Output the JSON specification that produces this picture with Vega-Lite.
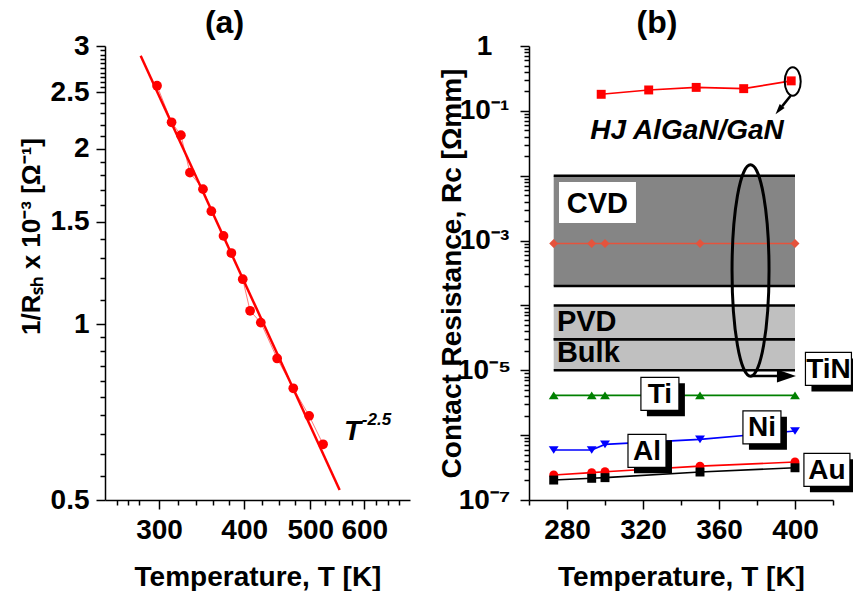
{
  "$schema": "https://vega.github.io/schema/vega-lite/v6.json",
  "background": "white",
  "padding": {"left": 18, "top": 7, "right": 0, "bottom": 0},
  "bounds": "flush",
  "spacing": 119,
  "config": {
    "view": {"stroke": null},
    "font": "Liberation Sans",
    "axis": {
      "domainColor": "black", "domainWidth": 1.5, "tickColor": "black", "tickWidth": 1.5,
      "labelFont": "Liberation Sans", "labelFontSize": 28, "labelFontWeight": "bold", "labelColor": "black",
      "titleFont": "Liberation Sans", "titleFontSize": 28, "titleFontWeight": "bold", "titleColor": "black",
      "grid": false, "labelOverlap": false, "labelFlush": false, "labelBound": false
    },
    "title": {"font": "Liberation Sans", "fontSize": 32, "fontWeight": "bold", "color": "black", "anchor": "middle", "baseline": "alphabetic", "offset": -8}
  },
  "datasets": {
    "ptsA": [
      {"T": 298, "V": 2.565}, {"T": 313, "V": 2.22}, {"T": 323, "V": 2.11}, {"T": 333, "V": 1.82},
      {"T": 348, "V": 1.705}, {"T": 358, "V": 1.563}, {"T": 373, "V": 1.418}, {"T": 383, "V": 1.325},
      {"T": 398, "V": 1.195}, {"T": 408, "V": 1.055}, {"T": 423, "V": 1.007}, {"T": 447, "V": 0.874},
      {"T": 472, "V": 0.777}, {"T": 498, "V": 0.697}, {"T": 522, "V": 0.623}
    ],
    "fitA": [{"T": 282, "V": 2.887}, {"T": 552, "V": 0.52}],
    "notesA": [{"note": "T", "T": 560, "V": 0.634}, {"note": "-2.5", "T": 595, "V": 0.672}],
    "rc": [
      {"metal": "HJ", "T": 298, "V": 0.18}, {"metal": "HJ", "T": 323, "V": 0.21}, {"metal": "HJ", "T": 348, "V": 0.23}, {"metal": "HJ", "T": 373, "V": 0.22}, {"metal": "HJ", "T": 398, "V": 0.29},
      {"metal": "TiN", "T": 273, "V": 0.0009}, {"metal": "TiN", "T": 293, "V": 0.0009}, {"metal": "TiN", "T": 300, "V": 0.0009}, {"metal": "TiN", "T": 350, "V": 0.0009}, {"metal": "TiN", "T": 400, "V": 0.0009},
      {"metal": "Ti", "T": 273, "V": 4.1e-6}, {"metal": "Ti", "T": 293, "V": 4.1e-6}, {"metal": "Ti", "T": 300, "V": 4.1e-6}, {"metal": "Ti", "T": 350, "V": 4.1e-6}, {"metal": "Ti", "T": 400, "V": 4.1e-6},
      {"metal": "Ni", "T": 273, "V": 5.9e-7}, {"metal": "Ni", "T": 293, "V": 5.9e-7}, {"metal": "Ni", "T": 300, "V": 7.2e-7}, {"metal": "Ni", "T": 350, "V": 8.6e-7}, {"metal": "Ni", "T": 400, "V": 1.16e-6},
      {"metal": "Al", "T": 273, "V": 2.43e-7}, {"metal": "Al", "T": 293, "V": 2.64e-7}, {"metal": "Al", "T": 300, "V": 2.73e-7}, {"metal": "Al", "T": 350, "V": 3.33e-7}, {"metal": "Al", "T": 400, "V": 3.85e-7},
      {"metal": "Au", "T": 273, "V": 2.03e-7}, {"metal": "Au", "T": 293, "V": 2.16e-7}, {"metal": "Au", "T": 300, "V": 2.21e-7}, {"metal": "Au", "T": 350, "V": 2.7e-7}, {"metal": "Au", "T": 400, "V": 3.14e-7}
    ],
    "bands": [
      {"band": "CVD", "T0": 273, "T1": 400, "lo": 0.0002, "hi": 0.01},
      {"band": "PVD", "T0": 273, "T1": 400, "lo": 3e-5, "hi": 0.0001},
      {"band": "Bulk", "T0": 273, "T1": 400, "lo": 1e-5, "hi": 3e-5}
    ],
    "cvdbox": [{"T": 275.8, "T2": 316.3, "V": 0.00186, "V2": 0.00797}],
    "notesB": [
      {"note": "CVD", "T": 296, "V": 0.00385},
      {"note": "PVD", "T": 274.7, "V": 4.04e-5},
      {"note": "Bulk", "T": 274.7, "V": 1.33e-5},
      {"note": "HJ AlGaN/GaN", "T": 343.2, "V": 0.0367}
    ],
    "ellipses": [{"e": "small", "T": 398.8, "V": 0.2833}, {"e": "big", "T": 376.6, "V": 0.000346}],
    "arrows": [
      {"a": "small", "T": 397.7, "T2": 393.2, "V": 0.171, "V2": 0.1173},
      {"a": "big", "T": 376.8, "T2": 391.1, "V": 8.17e-6, "V2": 8.17e-6}
    ],
    "heads": [{"a": "small", "T": 391.5, "V": 0.1025}, {"a": "big", "T": 395.5, "V": 8.17e-6}],
    "tags": [
      {"label": "Ti", "T": 328.9, "V": 4.34e-6},
      {"label": "Ni", "T": 382.6, "V": 1.32e-6},
      {"label": "Al", "T": 322.1, "V": 5.73e-7},
      {"label": "Au", "T": 416.8, "V": 2.92e-7},
      {"label": "TiN", "T": 417.6, "V": 1.05e-5}
    ]
  },
  "hconcat": [
    {
      "width": 305,
      "height": 454,
      "title": {"text": "(a)", "dx": -33},
      "encoding": {
        "x": {
          "field": "T", "type": "quantitative",
          "scale": {"type": "log", "domain": [250, 700], "nice": false},
          "axis": {
            "title": "Temperature, T [K]",
            "values": [260, 270, 280, 300, 320, 340, 360, 380, 400, 425, 450, 475, 500, 525, 550, 575, 600, 625, 650, 675],
            "labelExpr": "indexof([300,400,500,600], datum.value) >= 0 ? '' + datum.value : ''",
            "tickSize": {"condition": {"test": "indexof([300,400,500,600], datum.value) >= 0", "value": 9}, "value": 5},
            "labelPadding": 7,
            "titleY": 85, "titleBaseline": "alphabetic"
          }
        },
        "y": {
          "field": "V", "type": "quantitative",
          "scale": {"type": "log", "domain": [0.5, 3], "nice": false},
          "axis": {
            "title": "1/Rₛₕ x 10⁻³ [Ω⁻¹]",
            "titleFontSize": 26,
            "values": [0.5, 0.55, 0.6, 0.65, 0.7, 0.75, 0.8, 0.85, 0.9, 0.95, 1, 1.1, 1.2, 1.3, 1.4, 1.5, 1.6, 1.7, 1.8, 1.9, 2, 2.1, 2.2, 2.3, 2.4, 2.5, 2.55, 2.6, 2.65, 2.7, 2.75, 2.8, 2.85, 2.9, 2.95, 3],
            "labelExpr": "indexof([0.5,1,1.5,2,2.5,3], datum.value) >= 0 ? '' + datum.value : ''",
            "tickSize": {"condition": {"test": "indexof([0.5,1,1.5,2,2.5,3], datum.value) >= 0", "value": 9}, "value": 5},
            "labelPadding": 7,
            "titleX": -66, "titleY": 190, "titleAngle": 270, "titleBaseline": "alphabetic", "titleAlign": "center"
          }
        }
      },
      "layer": [
        {
          "data": {"values": [{}]},
          "mark": {"type": "rect", "filled": false, "color": "black", "strokeWidth": 1.5},
          "encoding": {"x": {"datum": 250}, "x2": {"datum": 700}, "y": {"datum": 0.5}, "y2": {"datum": 3}}
        },
        {"data": {"name": "ptsA"}, "mark": {"type": "line", "color": "#ff5a5a", "strokeWidth": 1, "opacity": 0.8}},
        {"data": {"name": "fitA"}, "mark": {"type": "line", "color": "#ff0000", "strokeWidth": 2.5}},
        {"data": {"name": "ptsA"}, "mark": {"type": "circle", "color": "#ff0000", "size": 95, "opacity": 1}},
        {
          "data": {"name": "notesA"},
          "transform": [{"filter": "datum.note == 'T'"}],
          "mark": {"type": "text", "fontSize": 28, "fontWeight": "bold", "fontStyle": "italic", "align": "left", "baseline": "alphabetic", "color": "black"},
          "encoding": {"text": {"field": "note"}}
        },
        {
          "data": {"name": "notesA"},
          "transform": [{"filter": "datum.note != 'T'"}],
          "mark": {"type": "text", "fontSize": 17, "fontWeight": "bold", "fontStyle": "italic", "align": "left", "baseline": "alphabetic", "color": "black"},
          "encoding": {"text": {"field": "note"}}
        }
      ]
    },
    {
      "width": 304,
      "height": 454,
      "title": {"text": "(b)", "dx": -24},
      "encoding": {
        "x": {
          "field": "T", "type": "quantitative",
          "scale": {"type": "linear", "domain": [260, 420], "nice": false, "zero": false},
          "axis": {
            "title": "Temperature, T [K]",
            "values": [260, 280, 300, 320, 340, 360, 380, 400, 420],
            "labelExpr": "indexof([280,320,360,400], datum.value) >= 0 ? '' + datum.value : ''",
            "tickSize": {"condition": {"test": "indexof([280,320,360,400], datum.value) >= 0", "value": 9}, "value": 5},
            "labelPadding": 7,
            "titleY": 85, "titleBaseline": "alphabetic"
          }
        },
        "y": {
          "field": "V", "type": "quantitative",
          "scale": {"type": "log", "domain": [1e-7, 1], "nice": false},
          "axis": {
            "title": "Contact Resistance, Rc [Ωmm]",
            "values": [1e-7, 2e-7, 3e-7, 4e-7, 5e-7, 6e-7, 7e-7, 8e-7, 9e-7, 1e-6, 2e-6, 3e-6, 4e-6, 5e-6, 6e-6, 7e-6, 8e-6, 9e-6, 1e-5, 2e-5, 3e-5, 4e-5, 5e-5, 6e-5, 7e-5, 8e-5, 9e-5, 0.0001, 0.0002, 0.0003, 0.0004, 0.0005, 0.0006, 0.0007, 0.0008, 0.0009, 0.001, 0.002, 0.003, 0.004, 0.005, 0.006, 0.007, 0.008, 0.009, 0.01, 0.02, 0.03, 0.04, 0.05, 0.06, 0.07, 0.08, 0.09, 0.1, 0.2, 0.3, 0.4, 0.5, 0.6, 0.7, 0.8, 0.9, 1],
            "labelExpr": "abs(log(datum.value)/LN10) < 0.001 ? '1' : abs(log(datum.value)/LN10 + 1) < 0.001 ? '10⁻¹' : abs(log(datum.value)/LN10 + 3) < 0.001 ? '10⁻³' : abs(log(datum.value)/LN10 + 5) < 0.001 ? '10⁻⁵' : abs(log(datum.value)/LN10 + 7) < 0.001 ? '10⁻⁷' : ''",
            "tickSize": {"condition": {"test": "abs(log(datum.value)/LN10 - round(log(datum.value)/LN10)) < 0.001", "value": 9}, "value": 5},
            "labelAlign": "center",
            "labelPadding": 36,
            "titleX": -69, "titleAngle": 270, "titleBaseline": "alphabetic", "titleAlign": "center"
          }
        }
      },
      "layer": [
        {
          "data": {"values": [{}]},
          "mark": {"type": "rect", "filled": false, "color": "black", "strokeWidth": 1.5},
          "encoding": {"x": {"datum": 260}, "x2": {"datum": 420}, "y": {"datum": 1e-7}, "y2": {"datum": 1}}
        },
        {
          "data": {"name": "bands"},
          "transform": [{"filter": "datum.band == 'CVD'"}],
          "mark": {"type": "rect", "fill": "#858585"},
          "encoding": {"x": {"field": "T0", "type": "quantitative"}, "x2": {"field": "T1"}, "y": {"field": "lo", "type": "quantitative"}, "y2": {"field": "hi"}}
        },
        {
          "data": {"name": "bands"},
          "transform": [{"filter": "datum.band != 'CVD'"}],
          "mark": {"type": "rect", "fill": "#c0c0c0"},
          "encoding": {"x": {"field": "T0", "type": "quantitative"}, "x2": {"field": "T1"}, "y": {"field": "lo", "type": "quantitative"}, "y2": {"field": "hi"}}
        },
        {
          "data": {"name": "bands"},
          "mark": {"type": "rule", "color": "black", "strokeWidth": 2.5},
          "encoding": {"x": {"field": "T0", "type": "quantitative"}, "x2": {"field": "T1"}, "y": {"field": "hi", "type": "quantitative"}}
        },
        {
          "data": {"name": "bands"},
          "mark": {"type": "rule", "color": "black", "strokeWidth": 2.5},
          "encoding": {"x": {"field": "T0", "type": "quantitative"}, "x2": {"field": "T1"}, "y": {"field": "lo", "type": "quantitative"}}
        },
        {
          "data": {"name": "rc"},
          "mark": {"type": "line", "strokeWidth": 1.6},
          "encoding": {
            "color": {"field": "metal", "type": "nominal", "legend": null,
              "scale": {"domain": ["HJ", "TiN", "Ti", "Ni", "Al", "Au"], "range": ["#ff0000", "#e5533c", "#008000", "#0000ff", "#ff0000", "#000000"]}}
          }
        },
        {
          "data": {"name": "rc"},
          "mark": {"type": "point", "filled": true, "size": 80, "opacity": 1},
          "encoding": {
            "color": {"field": "metal", "type": "nominal", "legend": null,
              "scale": {"domain": ["HJ", "TiN", "Ti", "Ni", "Al", "Au"], "range": ["#ff0000", "#e5533c", "#008000", "#0000ff", "#ff0000", "#000000"]}},
            "shape": {"field": "metal", "type": "nominal", "legend": null,
              "scale": {"domain": ["HJ", "TiN", "Ti", "Ni", "Al", "Au"], "range": ["square", "diamond", "M0,-0.85L1.1,0.85L-1.1,0.85Z", "M0,0.85L1.1,-0.85L-1.1,-0.85Z", "circle", "square"]}}
          }
        },
        {
          "data": {"name": "cvdbox"},
          "mark": {"type": "rect", "fill": "white"},
          "encoding": {"x2": {"field": "T2"}, "y2": {"field": "V2"}}
        },
        {
          "data": {"name": "notesB"},
          "transform": [{"filter": "datum.note == 'CVD'"}],
          "mark": {"type": "text", "fontSize": 29, "fontWeight": "bold", "align": "center", "baseline": "middle", "color": "black", "dy": 1},
          "encoding": {"text": {"field": "note"}}
        },
        {
          "data": {"name": "notesB"},
          "transform": [{"filter": "datum.note == 'PVD' || datum.note == 'Bulk'"}],
          "mark": {"type": "text", "fontSize": 29, "fontWeight": "bold", "align": "left", "baseline": "alphabetic", "color": "black"},
          "encoding": {"text": {"field": "note"}}
        },
        {
          "data": {"name": "notesB"},
          "transform": [{"filter": "datum.note == 'HJ AlGaN/GaN'"}],
          "mark": {"type": "text", "fontSize": 28, "fontWeight": "bold", "fontStyle": "italic", "align": "center", "baseline": "alphabetic", "color": "black"},
          "encoding": {"text": {"field": "note"}}
        },
        {
          "data": {"name": "ellipses"},
          "transform": [{"filter": "datum.e == 'small'"}],
          "mark": {"type": "point", "shape": "M0,-1C0.311,-1,0.563,-0.552,0.563,0C0.563,0.552,0.311,1,0,1C-0.311,1,-0.563,0.552,-0.563,0C-0.563,-0.552,-0.311,-1,0,-1Z", "size": 807, "filled": false, "stroke": "black", "strokeWidth": 2, "opacity": 1}
        },
        {
          "data": {"name": "ellipses"},
          "transform": [{"filter": "datum.e == 'big'"}],
          "mark": {"type": "point", "shape": "M0,-1C0.097,-1,0.175,-0.552,0.175,0C0.175,0.552,0.097,1,0,1C-0.097,1,-0.175,0.552,-0.175,0C-0.175,-0.552,-0.097,-1,0,-1Z", "size": 44690, "filled": false, "stroke": "black", "strokeWidth": 3, "opacity": 1}
        },
        {
          "data": {"name": "arrows"},
          "mark": {"type": "rule", "color": "black", "strokeWidth": 2.5},
          "encoding": {"x2": {"field": "T2"}, "y2": {"field": "V2"}}
        },
        {
          "data": {"name": "heads"},
          "transform": [{"filter": "datum.a == 'small'"}],
          "mark": {"type": "point", "shape": "M1,0L-1,-0.6L-1,0.6Z", "size": 110, "angle": 129, "filled": true, "fill": "black", "stroke": null, "opacity": 1}
        },
        {
          "data": {"name": "heads"},
          "transform": [{"filter": "datum.a == 'big'"}],
          "mark": {"type": "point", "shape": "M1,0L-1,-0.68L-1,0.68Z", "size": 361, "filled": true, "fill": "black", "stroke": null, "opacity": 1}
        },
        {
          "data": {"name": "tags"},
          "transform": [{"filter": "datum.label == 'Ti' || datum.label == 'Ni' || datum.label == 'Al'"}],
          "mark": {"type": "point", "shape": "M-1,-0.868H1V0.868H-1Z", "size": 1444, "filled": true, "fill": "black", "stroke": null, "opacity": 1, "xOffset": 6, "yOffset": 6}
        },
        {
          "data": {"name": "tags"},
          "transform": [{"filter": "datum.label == 'Au' || datum.label == 'TiN'"}],
          "mark": {"type": "point", "shape": "M-1,-0.717H1V0.717H-1Z", "size": 2116, "filled": true, "fill": "black", "stroke": null, "opacity": 1, "xOffset": 6, "yOffset": 6}
        },
        {
          "data": {"name": "tags"},
          "transform": [{"filter": "datum.label == 'Ti' || datum.label == 'Ni' || datum.label == 'Al'"}],
          "mark": {"type": "point", "shape": "M-1,-0.868H1V0.868H-1Z", "size": 1444, "filled": true, "fill": "white", "stroke": "black", "strokeWidth": 1.2, "opacity": 1}
        },
        {
          "data": {"name": "tags"},
          "transform": [{"filter": "datum.label == 'Au' || datum.label == 'TiN'"}],
          "mark": {"type": "point", "shape": "M-1,-0.717H1V0.717H-1Z", "size": 2116, "filled": true, "fill": "white", "stroke": "black", "strokeWidth": 1.2, "opacity": 1}
        },
        {
          "data": {"name": "tags"},
          "mark": {"type": "text", "fontSize": 28, "fontWeight": "bold", "align": "center", "baseline": "middle", "color": "black", "dy": 1},
          "encoding": {"text": {"field": "label"}}
        }
      ]
    }
  ]
}
